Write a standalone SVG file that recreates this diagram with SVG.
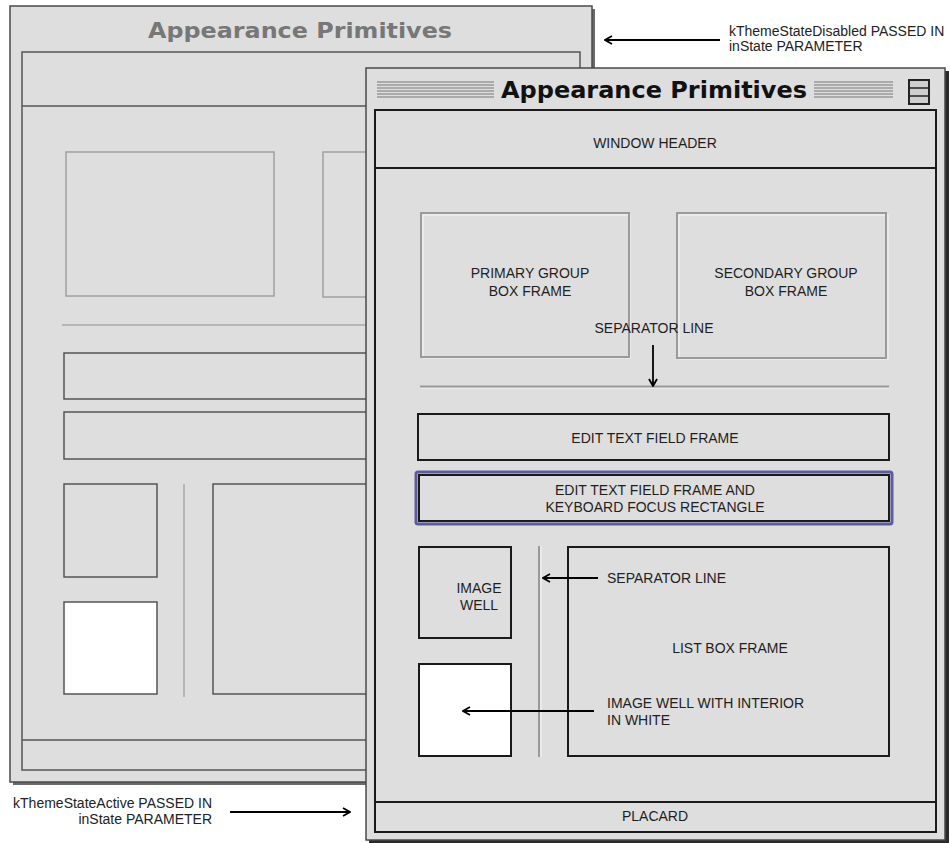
<svg xmlns="http://www.w3.org/2000/svg" width="950" height="843" viewBox="0 0 950 843">
<style>
.win{fill:#dedede;stroke:#4a4a4a;stroke-width:1.5}
.bgframe{fill:none;stroke:#555;stroke-width:1.5}
.bggroup{fill:none;stroke:#a0a0a0;stroke-width:1.5}
.bgsep{stroke:#aaa;stroke-width:1.5}
.frame{fill:none;stroke:#1a1a1a;stroke-width:2}
.white{fill:#ffffff}
.group{fill:none;stroke:#9a9a9a;stroke-width:2}
.hl{fill:none;stroke:#f6f6f6;stroke-width:1}
.sep{stroke:#999;stroke-width:2}
.lbl{font-family:"Liberation Sans",Arial,sans-serif;font-size:14px;fill:#1e1e1e;text-anchor:middle}
.ann{font-family:"Liberation Sans",Arial,sans-serif;font-size:14px;fill:#222}
.conn{stroke:#000;stroke-width:1.8;fill:none}
.stripe{stroke:#777;stroke-width:1}
</style>
<defs>
<marker id="ah" viewBox="0 0 10 10" refX="9" refY="5" markerWidth="10" markerHeight="10" markerUnits="userSpaceOnUse" orient="auto">
<path d="M2,1 L9,5 L2,9" fill="none" stroke="#000" stroke-width="1.8"/>
</marker>
</defs>
<rect width="950" height="843" fill="#ffffff"/>

<g id="disabled-window">
<rect x="13" y="9" width="582" height="776" fill="#6a6a6a"/>
<rect class="win" x="10" y="6" width="582" height="776" stroke="#555"/>
<text x="300" y="38" font-family="DejaVu Sans,sans-serif" font-weight="bold" font-size="21" fill="#777" text-anchor="middle" textLength="304" lengthAdjust="spacingAndGlyphs">Appearance Primitives</text>
<rect class="bgframe" x="22" y="52" width="558" height="718"/>
<line class="bgframe" x1="22" y1="106" x2="580" y2="106"/>
<line class="bgframe" x1="22" y1="740" x2="580" y2="740"/>
<rect class="bggroup" x="66" y="152" width="208" height="144"/>
<rect class="bggroup" x="323" y="152" width="120" height="145"/>
<line class="bgsep" x1="62" y1="325" x2="470" y2="325"/>
<rect class="bgframe" x="64" y="353" width="400" height="46"/>
<rect class="bgframe" x="64" y="412" width="400" height="47"/>
<rect class="bgframe" x="64" y="484" width="93" height="93"/>
<rect x="64" y="602" width="93" height="92" style="fill:#ffffff;stroke:#555;stroke-width:1.5"/>
<line class="bgsep" x1="184" y1="484" x2="184" y2="697"/>
<rect class="bgframe" x="213" y="484" width="250" height="210"/>
</g>

<g id="active-window">
<rect x="369" y="71" width="580" height="772" fill="#2a2a2a"/>
<rect class="win" x="366" y="68" width="579" height="772" stroke="#333"/>
<g id="title-stripes">
<line class="stripe" x1="377" y1="82" x2="494" y2="82"/>
<line class="stripe" x1="377" y1="85" x2="494" y2="85"/>
<line class="stripe" x1="377" y1="88" x2="494" y2="88"/>
<line class="stripe" x1="377" y1="91" x2="494" y2="91"/>
<line class="stripe" x1="377" y1="94" x2="494" y2="94"/>
<line class="stripe" x1="377" y1="97" x2="494" y2="97"/>
<line class="stripe" x1="814" y1="82" x2="893" y2="82"/>
<line class="stripe" x1="814" y1="85" x2="893" y2="85"/>
<line class="stripe" x1="814" y1="88" x2="893" y2="88"/>
<line class="stripe" x1="814" y1="91" x2="893" y2="91"/>
<line class="stripe" x1="814" y1="94" x2="893" y2="94"/>
<line class="stripe" x1="814" y1="97" x2="893" y2="97"/>
</g>
<text x="654" y="98" font-family="DejaVu Sans,sans-serif" font-weight="bold" font-size="23" fill="#111" text-anchor="middle" textLength="306" lengthAdjust="spacingAndGlyphs">Appearance Primitives</text>
<g id="zoom-box">
<rect x="909" y="80" width="20" height="24" fill="#cfcfcf" stroke="#222" stroke-width="2"/>
<line x1="909" y1="88" x2="929" y2="88" stroke="#222" stroke-width="1.5"/>
<line x1="909" y1="96" x2="929" y2="96" stroke="#222" stroke-width="1.5"/>
</g>
<rect class="frame" x="375" y="110" width="561" height="722"/>
<line class="frame" x1="375" y1="168" x2="936" y2="168"/>
<line class="frame" x1="375" y1="802" x2="936" y2="802"/>
</g>

<g id="window-header">
<text class="lbl" x="655" y="148">WINDOW HEADER</text>
</g>

<g id="primary-group">
<rect class="hl" x="423" y="215" width="207" height="143"/>
<rect class="group" x="421" y="213" width="208" height="144"/>
<text class="lbl" x="530" y="278">PRIMARY GROUP</text>
<text class="lbl" x="530" y="296">BOX FRAME</text>
</g>

<g id="secondary-group">
<rect class="hl" x="679" y="215" width="209" height="144"/>
<rect class="group" x="677" y="213" width="209" height="145"/>
<text class="lbl" x="786" y="278">SECONDARY GROUP</text>
<text class="lbl" x="786" y="296">BOX FRAME</text>
</g>

<g id="separator-label">
<text class="lbl" x="654" y="333">SEPARATOR LINE</text>
</g>

<g id="separator-h">
<line x1="420" y1="388" x2="889" y2="388" stroke="#f6f6f6" stroke-width="1"/>
<line class="sep" x1="420" y1="386.5" x2="889" y2="386.5"/>
</g>

<g id="edit-field">
<rect class="frame" x="418" y="414" width="471" height="46"/>
<text class="lbl" x="655" y="443">EDIT TEXT FIELD FRAME</text>
</g>

<g id="edit-field-focus">
<rect x="416" y="472" width="476" height="52" fill="none" stroke="#5c5c9c" stroke-width="3" rx="2"/>
<rect class="frame" x="419" y="475" width="470" height="46"/>
<text class="lbl" x="655" y="495">EDIT TEXT FIELD FRAME AND</text>
<text class="lbl" x="655" y="512">KEYBOARD FOCUS RECTANGLE</text>
</g>

<g id="image-well">
<rect class="frame" x="419" y="547" width="92" height="91"/>
<text class="lbl" x="479" y="593">IMAGE</text>
<text class="lbl" x="479" y="610">WELL</text>
</g>

<g id="separator-v">
<line x1="541" y1="546" x2="541" y2="757" stroke="#f6f6f6" stroke-width="1"/>
<line class="sep" x1="539" y1="546" x2="539" y2="757"/>
</g>

<g id="separator-v-label">
<text class="ann" x="607" y="583">SEPARATOR LINE</text>
</g>

<g id="list-box">
<rect class="frame" x="568" y="547" width="321" height="209"/>
<text class="lbl" x="730" y="653">LIST BOX FRAME</text>
</g>

<g id="image-well-white">
<rect x="419" y="664" width="92" height="92" style="fill:#ffffff;stroke:#1a1a1a;stroke-width:2"/>
</g>

<g id="image-well-white-label">
<text class="ann" x="607" y="708">IMAGE WELL WITH INTERIOR</text>
<text class="ann" x="607" y="725">IN WHITE</text>
</g>

<g id="placard">
<text class="lbl" x="655" y="821">PLACARD</text>
</g>

<g id="disabled-note">
<text class="ann" x="729" y="36">kThemeStateDisabled PASSED IN</text>
<text class="ann" x="729" y="51">inState PARAMETER</text>
</g>

<g id="active-note">
<text class="ann" x="212" y="808" text-anchor="end">kThemeStateActive PASSED IN</text>
<text class="ann" x="212" y="824" text-anchor="end">inState PARAMETER</text>
</g>

<g id="connectors">
<line class="conn" x1="720" y1="40" x2="605" y2="40" marker-end="url(#ah)"/>
<line class="conn" x1="230" y1="812" x2="350" y2="812" marker-end="url(#ah)"/>
<line class="conn" x1="653" y1="345" x2="653" y2="386" marker-end="url(#ah)"/>
<line class="conn" x1="598" y1="578" x2="543" y2="578" marker-end="url(#ah)"/>
<line class="conn" x1="594" y1="711" x2="463" y2="711" marker-end="url(#ah)"/>
</g>
</svg>
